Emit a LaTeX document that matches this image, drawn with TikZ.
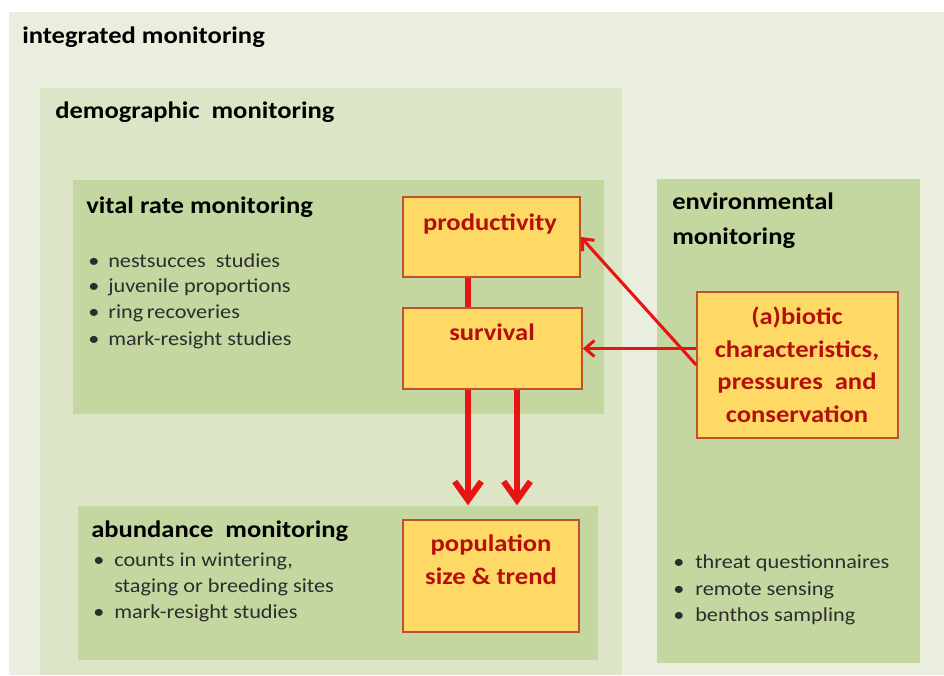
\documentclass[tikz,border=0pt]{standalone}
\usepackage{fontspec}
\setmainfont{Carlito}[FakeStretch=1.12]
\usetikzlibrary{fit,arrows.meta,calc}
\definecolor{bgouter}{RGB}{234,238,222}
\definecolor{bgdemo}{RGB}{220,230,199}
\definecolor{bginner}{RGB}{196,215,160}
\definecolor{boxfill}{RGB}{255,217,102}
\definecolor{boxline}{RGB}{192,80,50}
\definecolor{boxtext}{RGB}{180,15,10}
\definecolor{linkred}{RGB}{232,20,20}
\definecolor{itemgray}{RGB}{45,45,45}
\newcommand{\headfont}{\fontsize{17.8}{21}\selectfont\bfseries}
\newcommand{\itemfont}{\fontsize{14.9}{18}\selectfont}
\newcommand{\boxfont}{\fontsize{17.8}{21}\selectfont\bfseries}
\begin{document}
\begin{tikzpicture}[x=0.75pt,y=-0.75pt,
  region/.style={inner sep=0pt, draw=none},
  obox/.style={inner sep=0pt, fill=boxfill, draw=boxline, line width=1.1pt},
  head/.style={anchor=base west, inner sep=0pt, font=\headfont, text=black},
  bul/.style={anchor=base west, inner sep=0pt, font=\itemfont, text=itemgray},
  item/.style={anchor=base west, inner sep=0pt, font=\itemfont, text=itemgray},
  btext/.style={anchor=base, inner sep=0pt, font=\boxfont, text=boxtext},
  link/.style={draw=linkred, line width=4.5pt},
  bigarrow/.style={draw=linkred, line width=4.5pt, -{Straight Barb[length=14pt,width=20pt]}},
  sidearrow/.style={draw=linkred, line width=2.3pt, -{Straight Barb[length=7pt,width=12pt]}}]
\useasboundingbox (0,0) rectangle (944,675);
\fill[white] (0,0) rectangle (944,675);
% regions
\node[region, fill=bgouter, fit={(9,12) (944,675)}] (outer) {};
\node[region, fill=bgdemo, fit={(40,88) (622,675)}] (demo) {};
\node[region, fill=bginner, fit={(73,180) (604,414)}] (vital) {};
\node[region, fill=bginner, fit={(78,506) (598,660)}] (abund) {};
\node[region, fill=bginner, fit={(657,179) (920,663)}] (env) {};
% orange boxes
\node[obox, fit={(403,197) (580,277)}] (prod) {};
\node[obox, fit={(403,308) (582,389)}] (surv) {};
\node[obox, fit={(403,520) (579,632)}] (pop) {};
\node[obox, fit={(697,292) (898,438)}] (abio) {};
% headings
\node[head] (hint) at (22,43) {integrated monitoring};
\node[head] (hdemo) at (55,118) {demographic\ \ monitoring};
\node[head] (hvital) at (86,213) {vital rate monitoring};
\node[head] (habund) at (91,537) {abundance\ \ monitoring};
\node[head] (henv1) at (672,209) {environmental};
\node[head] (henv2) at (672,244) {monitoring};
% vital bullets
\node[bul] (vb1) at (88,267) {\textbullet};
\node[item] (vt1) at (108,267) {nestsucces\ \ studies};
\node[bul] (vb2) at (88,292) {\textbullet};
\node[item] (vt2) at (108,292) {juvenile proportions};
\node[bul] (vb3) at (88,318) {\textbullet};
\node[item] (vt3) at (108,318) {ring\kern-1pt{} recoveries};
\node[bul] (vb4) at (88,345) {\textbullet};
\node[item] (vt4) at (108,345) {mark-resight studies};
% abundance bullets
\node[bul] (ab1) at (93,566) {\textbullet};
\node[item] (at1) at (114,566) {counts in wintering,};
\node[item] (at2) at (114,592) {staging or breeding sites};
\node[bul] (ab3) at (93,618) {\textbullet};
\node[item] (at3) at (114,618) {mark-resight studies};
% environmental bullets
\node[bul] (eb1) at (673,568) {\textbullet};
\node[item] (et1) at (695,568) {threat questionnaires};
\node[bul] (eb2) at (673,595) {\textbullet};
\node[item] (et2) at (695,595) {remote sensing};
\node[bul] (eb3) at (673,621) {\textbullet};
\node[item] (et3) at (695,621) {benthos sampling};
% box texts
\node[btext] (tprod) at (490,230) {productivity};
\node[btext] (tsurv) at (492,340) {survival};
\node[btext] (tpop1) at (491,551) {population};
\node[btext] (tpop2) at (491,584) {size \& trend};
\node[btext] (tab1) at (797,324) {(a)biotic};
\node[btext] (tab2) at (797,357) {characteristics,};
\node[btext] (tab3) at (797,389) {pressures\ \ and};
\node[btext] (tab4) at (797,422) {conservation};
% connectors
\coordinate (xa) at (468,0);
\coordinate (xb) at (517,0);
\draw[link] (prod.south -| xa) -- (surv.north -| xa);
\draw[bigarrow, shorten >=10.5pt] (surv.south -| xa) -- (pop.north -| xa);
\draw[bigarrow, shorten >=10.5pt] (surv.south -| xb) -- (pop.north -| xb);
\draw[sidearrow] (abio.west |- surv.east) -- (surv.east);
\draw[sidearrow] (abio.west) -- (prod.east);
\end{tikzpicture}
\end{document}
